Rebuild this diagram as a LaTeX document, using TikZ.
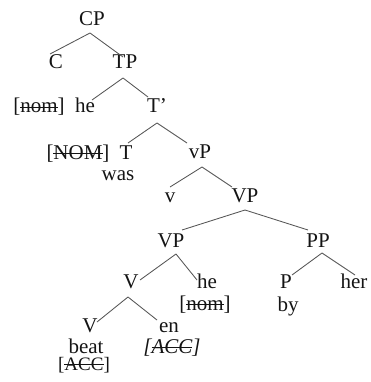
\documentclass[tikz,border=0pt]{standalone}
\usepackage{fontspec}
\setmainfont{Liberation Serif}
\newcommand\strikeit[1]{\leavevmode\setbox0=\hbox{#1}\rlap{\rule[0.25em]{\wd0}{0.9pt}}\box0}
\definecolor{txt}{HTML}{141414}
\definecolor{edge}{HTML}{555555}
\begin{document}
\begin{tikzpicture}[x=1pt,y=-1pt,
  lab/.style={font=\fontsize{21}{21}\selectfont, text=txt, inner sep=0pt, anchor=base},
  br/.style={draw=edge, line width=0.85pt}]
\useasboundingbox (0,0) rectangle (371,382);
% nodes
\node[lab] (CP) at (92,26) {CP};
\node[lab] (C) at (56,69) {C};
\node[lab] (TP) at (125,69) {TP};
\node[lab] (he1) at (85,113) {he};
\node[lab] (nom1) at (39,113) {[\strikeit{nom}]};
\node[lab] (Tbar) at (157,113) {T\textquoteright};
\node[lab] (NOM) at (78,159) {[\strikeit{NOM}]};
\node[lab] (T) at (126,159) {T};
\node[lab] (was) at (118,180) {was};
\node[lab] (vP) at (200,158) {vP};
\node[lab] (v) at (170,202) {v};
\node[lab] (VP) at (245,202) {VP};
\node[lab] (VPb) at (171,247) {VP};
\node[lab] (PP) at (318,247) {PP};
\node[lab] (V1) at (131,288) {V};
\node[lab] (he2) at (207,288) {he};
\node[lab] (nom2) at (205,310) {[\strikeit{nom}]};
\node[lab] (V2) at (90,332) {V};
\node[lab] (beat) at (86,353) {beat};
\node[lab, font=\fontsize{19}{19}\selectfont] (acc1) at (84,370) {[\strikeit{ACC}]};
\node[lab] (en) at (169,332) {en};
\node[lab] (acc2) at (172,353) {\textit{[\strikeit{ACC}]}};
\node[lab] (P) at (286,288) {P};
\node[lab] (by) at (288,311) {by};
\node[lab] (her) at (354,288) {her};
% branches
\draw[br] ([shift={(-2,7)}]CP.base) -- ([shift={(-6,-15)}]C.base);
\draw[br] ([shift={(-2,7)}]CP.base) -- ([shift={(-2,-12)}]TP.base);
\draw[br] ([shift={(-2,9)}]TP.base) -- ([shift={(7,-13)}]he1.base);
\draw[br] ([shift={(-2,9)}]TP.base) -- ([shift={(-9,-16)}]Tbar.base);
\draw[br] ([shift={(0,10)}]Tbar.base) -- ([shift={(2,-16)}]T.base);
\draw[br] ([shift={(0,10)}]Tbar.base) -- ([shift={(-13,-15)}]vP.base);
\draw[br] ([shift={(2,9)}]vP.base) -- ([shift={(0,-15)}]v.base);
\draw[br] ([shift={(2,9)}]vP.base) -- ([shift={(-13,-15)}]VP.base);
\draw[br] ([shift={(0,8)}]VP.base) -- ([shift={(11,-17)}]VPb.base);
\draw[br] ([shift={(0,8)}]VP.base) -- ([shift={(-10,-17)}]PP.base);
\draw[br] ([shift={(5,7)}]VPb.base) -- ([shift={(9,-8)}]V1.base);
\draw[br] ([shift={(5,7)}]VPb.base) -- ([shift={(-10,-8)}]he2.base);
\draw[br] ([shift={(-3,9)}]V1.base) -- ([shift={(7,-10)}]V2.base);
\draw[br] ([shift={(-3,9)}]V1.base) -- ([shift={(-12,-12)}]en.base);
\draw[br] ([shift={(4,6)}]PP.base) -- ([shift={(6,-13)}]P.base);
\draw[br] ([shift={(4,6)}]PP.base) -- ([shift={(1,-13)}]her.base);
\end{tikzpicture}
\end{document}
